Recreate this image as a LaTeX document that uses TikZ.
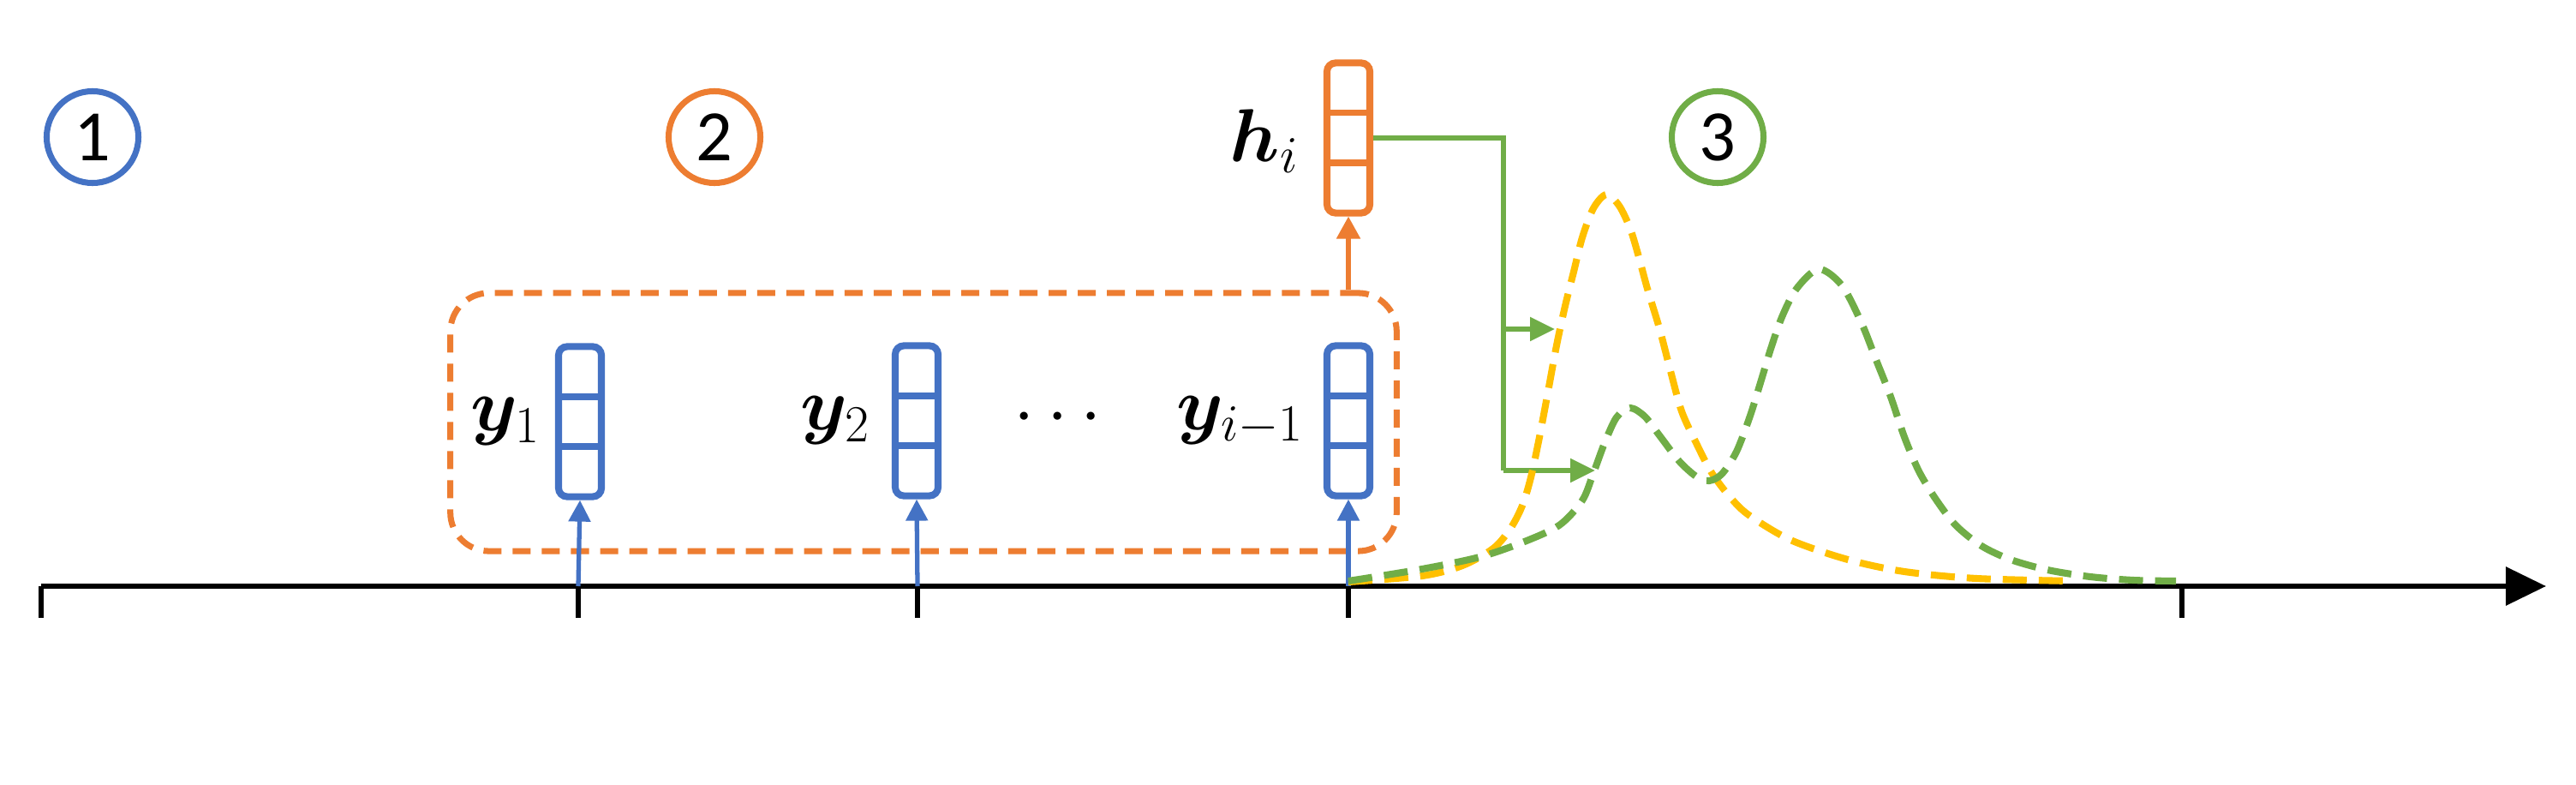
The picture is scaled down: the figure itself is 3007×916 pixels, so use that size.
\documentclass[tikz,border=0pt]{standalone}
\usepackage{amsmath}
\usepackage{bm}
\usepackage{fontspec}
\newfontfamily\numfont{Carlito}
\usetikzlibrary{arrows.meta,calc}
\definecolor{cblue}{HTML}{4472C4}
\definecolor{corange}{HTML}{ED7D31}
\definecolor{cgreen}{HTML}{70AD47}
\definecolor{cyellow}{HTML}{FFC000}
\tikzset{
  circ/.style={circle, draw=#1, line width=2pt, minimum size=1.07cm, inner sep=0pt,
    font=\numfont\fontsize{24}{28}\selectfont},
  vecbox/.style={draw=#1, line width=2.3pt, rounded corners=0.1cm, minimum width=0.5cm,
    minimum height=1.75cm, inner sep=0pt, fill=white,
    path picture={
      \draw[#1, line width=2.1pt]
        ($(path picture bounding box.north west)!1/3!(path picture bounding box.south west)$) --
        ($(path picture bounding box.north east)!1/3!(path picture bounding box.south east)$);
      \draw[#1, line width=2.1pt]
        ($(path picture bounding box.north west)!2/3!(path picture bounding box.south west)$) --
        ($(path picture bounding box.north east)!2/3!(path picture bounding box.south east)$);
    }},
  lab/.style={inner sep=0pt, font=\fontsize{26}{30}\selectfont},
  ctxbox/.style={draw=corange, line width=2pt, rounded corners=0.45cm,
    dash pattern=on 0.21cm off 0.13cm, inner sep=0pt},
  axisline/.style={black, line width=1.8pt},
  barrow/.style={cblue, line width=1.5pt, -{Triangle[length=0.25cm,width=0.25cm]}},
  oarrow/.style={corange, line width=1.5pt, -{Triangle[length=0.26cm,width=0.27cm]}},
  gline/.style={cgreen, line width=1.5pt},
  garrow/.style={cgreen, line width=1.5pt, -{Triangle[length=0.29cm,width=0.27cm]}},
  curve/.style={line width=2.3pt, dash pattern=on 0.28cm off 0.14cm},
}
\begin{document}
\begin{tikzpicture}[x=0.01cm, y=-0.01cm]
\useasboundingbox[fill=white] (0,0) rectangle (3007,916);

% step markers
\node[circ=cblue] (c1) at (108,160) {1};
\node[circ=corange] (c2) at (834,160) {2};
\node[circ=cgreen] (c3) at (2005,160) {3};

% context box
\node[ctxbox, minimum width=11.04cm, minimum height=3.01cm] (ctx) at (1078,492.5) {};

% observed vectors
\node[vecbox=cblue] (b1) at (677,492) {};
\node[vecbox=cblue] (b2) at (1070,491) {};
\node[vecbox=cblue] (b3) at (1574,491) {};
\node[vecbox=corange] (h) at (1574,161) {};

\node[lab, anchor=east] (l1) at ($(b1.west)+(-16,0)$) {$\bm{y}_1$};
\node[lab, anchor=east] (l2) at ($(b2.west)+(-24,0)$) {$\bm{y}_2$};
\node[lab, anchor=east] (l3) at ($(b3.west)+(-22,0)$) {$\bm{y}_{i-1}$};
\node[lab, anchor=east] (lh) at ($(h.west)+(-28,4)$) {$\bm{h}_i$};
\node[lab] (dots) at (1242,488) {$\cdots$};

% axis
\coordinate (ax0) at (48,684);
\coordinate (ax1) at (2972,684);
\coordinate (t1) at (675,684);
\coordinate (t2) at (1071,684);
\coordinate (t3) at (1574,684);
\coordinate (t4) at (2547,684);
\draw[axisline, -{Triangle[length=0.47cm,width=0.44cm]}] (ax0) -- (ax1);
\draw[axisline] (ax0) -- ++(0,37);
\draw[axisline] (t1) -- ++(0,37);
\draw[axisline] (t2) -- ++(0,37);
\draw[axisline] (t3) -- ++(0,37);
\draw[axisline] (t4) -- ++(0,37);

% arrows into vectors
\draw[barrow] (t1) -- (b1.south);
\draw[barrow] (t2) -- (b2.south);
\draw[barrow] (t3) -- (b3.south);
\draw[oarrow] (ctx.north -| h.south) -- (h.south);

% green connector
\coordinate (j1) at (1755,384);
\coordinate (j2) at (1755,549);
\coordinate (a1) at (1815,384);
\coordinate (a2) at (1862,549);
\draw[gline] (h.east) -| (j2);
\draw[garrow] (j1) -- (a1);
\draw[garrow] (j2) -- (a2);

% distributions
\draw[curve, cyellow] plot[smooth] coordinates {
(1574,679) (1660,672) (1707,660) (1743,640) (1763,617) (1777,590) (1787,557)
(1797,510) (1807,457) (1817,403) (1827,357) (1837,317) (1847,277) (1860,243)
(1875,227) (1890,240) (1903,267) (1913,300) (1923,337) (1937,383) (1950,433)
(1963,480) (1980,517) (1997,550) (2017,577) (2040,600) (2090,630) (2157,653)
(2223,667) (2307,675) (2420,678)};
\draw[curve, cgreen] plot[smooth] coordinates {
(1574,678) (1660,664) (1727,650) (1777,633) (1820,613) (1847,584) (1860,552)
(1873,517) (1887,487) (1903,476) (1920,486) (1937,508) (1960,538) (1980,556)
(1995,561) (2010,553) (2027,527) (2043,485) (2057,440) (2067,407) (2080,370)
(2097,337) (2123,314) (2150,333) (2173,377) (2190,420) (2207,463) (2223,510)
(2240,550) (2260,583) (2283,613) (2313,637) (2347,653) (2390,665) (2440,673)
(2490,677) (2540,678)};
\end{tikzpicture}
\end{document}
